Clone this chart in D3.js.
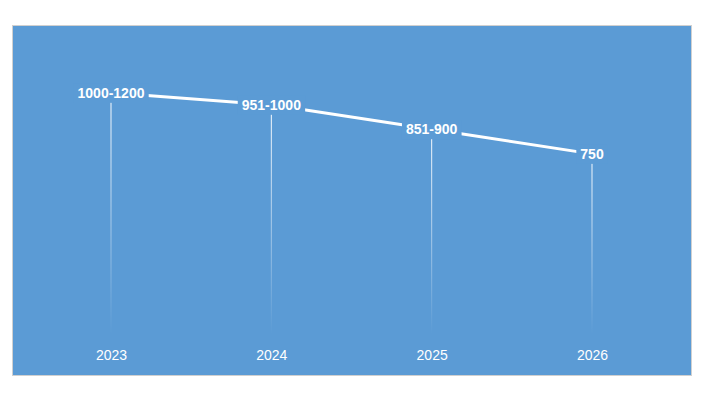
<!DOCTYPE html>
<html><head><meta charset="utf-8">
<script src="https://cdn.jsdelivr.net/npm/d3@7/dist/d3.min.js"></script>
<style>body{margin:0;background:#fff;}svg{display:block;}</style>
</head><body>
<script>
const years = ["2023","2024","2025","2026"];
const values = [1000, 951, 851, 750];
const labels = ["1000-1200","951-1000","851-900","750"];

const W = 701, H = 394;
const svg = d3.select("body").append("svg").attr("width", W).attr("height", H);
const blue = "#5b9bd5";
svg.append("rect").attr("x",12.5).attr("y",25.5).attr("width",679).attr("height",350)
  .attr("fill",blue).attr("stroke","#d0d0d0").attr("stroke-width",1);

const x = d3.scalePoint().domain(years).range([111, 592]);
const y = d3.scaleLinear().domain([0, 1200]).range([337, 44]);

const defs = svg.append("defs");
const g = defs.append("linearGradient").attr("id","fade").attr("x1",0).attr("y1",0).attr("x2",0).attr("y2",1);
g.append("stop").attr("offset","0%").attr("stop-color","#fff").attr("stop-opacity",1);
g.append("stop").attr("offset","100%").attr("stop-color","#fff").attr("stop-opacity",0);

const data = years.map((yr,i)=>({yr, v:values[i], lab:labels[i]}));
const bottom = 334;
// drop lines
svg.selectAll("rect.drop").data(data).join("rect").attr("class","drop")
  .attr("x", d=>x(d.yr)-0.5).attr("width",1)
  .attr("y", d=>y(d.v)).attr("height", d=>bottom-y(d.v))
  .attr("fill","url(#fade)");

// line
svg.append("path").datum(data)
  .attr("d", d3.line().x(d=>x(d.yr)).y(d=>y(d.v)))
  .attr("fill","none").attr("stroke","#fff").attr("stroke-width",3);

// labels with background
const lg = svg.selectAll("g.lab").data(data).join("g").attr("class","lab")
  .attr("transform", d=>`translate(${x(d.yr)},${y(d.v)})`);
const txt = lg.append("text").text(d=>d.lab)
  .attr("text-anchor","middle").attr("dy","0.36em")
  .attr("font-family","Liberation Sans, Arial, sans-serif").attr("font-weight","bold")
  .attr("font-size",14).attr("fill","#fff");
txt.each(function(){
  const b = this.getBBox();
  d3.select(this.parentNode).insert("rect","text")
    .attr("x", b.x-4).attr("y", -9).attr("width", b.width+8).attr("height", 19)
    .attr("fill", blue);
});

// x axis labels
const axis = d3.axisBottom(x).tickSize(0).tickPadding(0);
const ax = svg.append("g").attr("transform","translate(0,350)").call(axis);
ax.select(".domain").remove();
ax.selectAll("text").attr("fill","#fff").attr("font-size",14)
  .attr("font-family","Liberation Sans, Arial, sans-serif");
</script>
</body></html>
